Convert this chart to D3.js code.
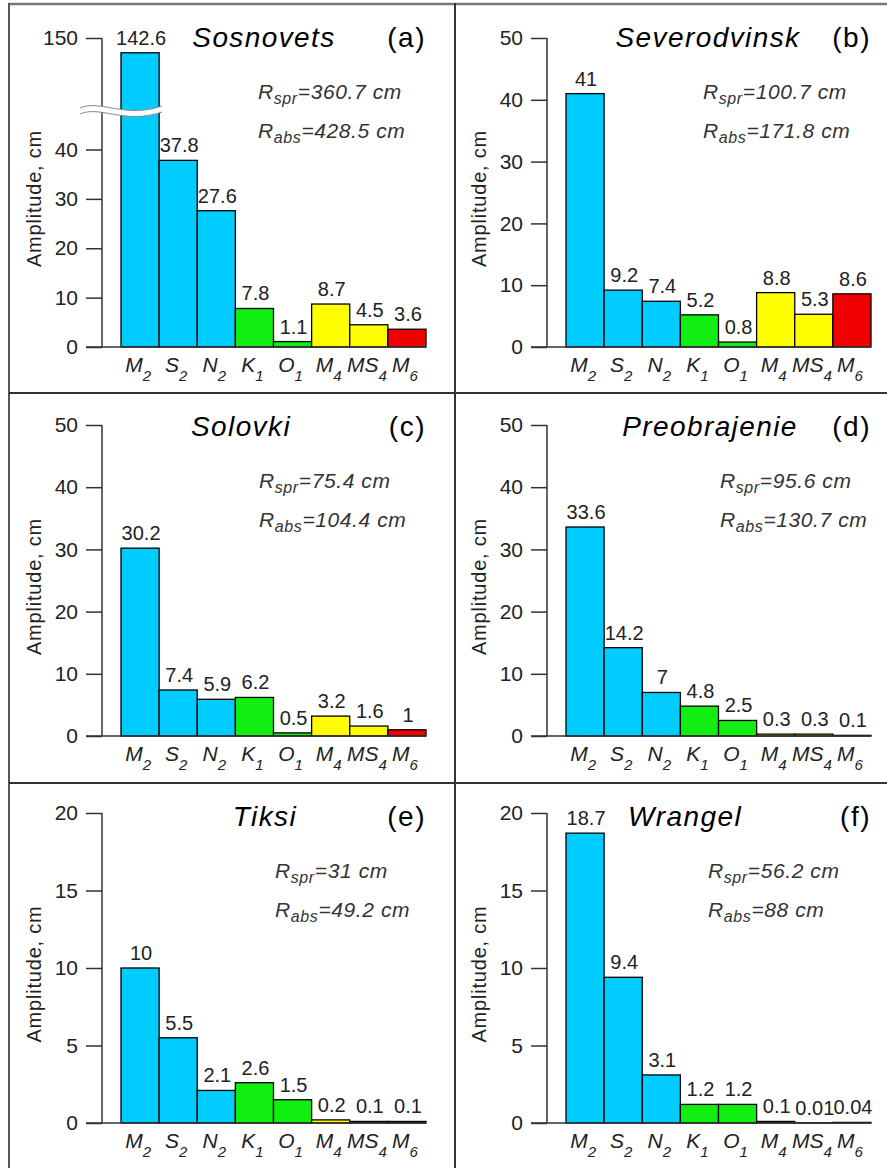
<!DOCTYPE html>
<html>
<head>
<meta charset="utf-8">
<script src="https://cdn.jsdelivr.net/npm/d3@7"></script>
<style>
  body { margin: 0; background: #fff; }
  text { font-family: "Liberation Sans", Arial, sans-serif; }
</style>
</head>
<body>
<script>
// Tidal constituents (letter + subscript) and their species
const constituents = ["M", "S", "N", "K", "O", "M", "MS", "M"];
const subscripts = ["2", "2", "2", "1", "1", "4", "4", "6"];
const species = ["semidiurnal", "semidiurnal", "semidiurnal", "diurnal", "diurnal", "quarter", "quarter", "sixth"];

const stations = ["Sosnovets", "Severodvinsk", "Solovki", "Preobrajenie", "Tiksi", "Wrangel"];
const panelLetters = ["(a)", "(b)", "(c)", "(d)", "(e)", "(f)"];

// Amplitudes, cm
const sosnovets = [142.6, 37.8, 27.6, 7.8, 1.1, 8.7, 4.5, 3.6];
const severodvinsk = [41, 9.2, 7.4, 5.2, 0.8, 8.8, 5.3, 8.6];
const solovki = [30.2, 7.4, 5.9, 6.2, 0.5, 3.2, 1.6, 1];
const preobrajenie = [33.6, 14.2, 7, 4.8, 2.5, 0.3, 0.3, 0.1];
const tiksi = [10, 5.5, 2.1, 2.6, 1.5, 0.2, 0.1, 0.1];
const wrangel = [18.7, 9.4, 3.1, 1.2, 1.2, 0.1, 0.01, 0.04];
const amplitudes = [sosnovets, severodvinsk, solovki, preobrajenie, tiksi, wrangel];

const rSpr = ["360.7", "100.7", "75.4", "95.6", "31", "56.2"];
const rAbs = ["428.5", "171.8", "104.4", "130.7", "49.2", "88"];

// y domains (Sosnovets has a broken axis between 48 and 114)
const yDomains = [[0, 48, 114, 150], [0, 50], [0, 50], [0, 50], [0, 20], [0, 20]];
const yTicks = [
  [0, 10, 20, 30, 40, 150],
  [0, 10, 20, 30, 40, 50],
  [0, 10, 20, 30, 40, 50],
  [0, 10, 20, 30, 40, 50],
  [0, 5, 10, 15, 20],
  [0, 5, 10, 15, 20]
];

const colors = { semidiurnal: "#00ccff", diurnal: "#11ee11", quarter: "#ffff00", sixth: "#f00000" };

// layout
const W = 887, H = 1168;
const colX = [0, 445];
const rowTop = [4, 393, 783];
const zeroY = [347, 736, 1123];
const topY = [38, 425, 813];
const breakY = 110;
const titleX = [264, 708, 241, 710, 265, 685];
const annX = [258, 703, 259, 720, 275, 708];

const svg = d3.select("body").append("svg")
    .attr("width", W)
    .attr("height", H);

svg.append("rect").attr("width", W).attr("height", H).attr("fill", "#fff");

stations.forEach((name, i) => {
  const col = i % 2, row = Math.floor(i / 2);
  const ox = colX[col];
  const g = svg.append("g").attr("transform", `translate(${ox},0)`);
  const y0 = zeroY[row], yTop = topY[row];

  const x = d3.scaleBand()
      .domain(d3.range(constituents.length))
      .range([121, 426])
      .padding(0);

  const dom = yDomains[i];
  const y = d3.scaleLinear()
      .domain(dom)
      .range(dom.length === 4 ? [y0, breakY, breakY, yTop] : [y0, yTop]);

  const data = amplitudes[i];

  // bars
  g.selectAll(".bar")
    .data(data)
    .enter().append("rect")
      .attr("x", (d, j) => x(j))
      .attr("y", d => y(d))
      .attr("width", x.bandwidth())
      .attr("height", d => y0 - y(d))
      .attr("fill", (d, j) => colors[species[j]])
      .attr("stroke", "#000")
      .attr("stroke-width", 1.3);

  // y axis
  const axis = g.append("g")
      .attr("transform", "translate(102,0)")
      .call(d3.axisLeft(y).tickValues(yTicks[i]).tickSize(16).tickPadding(8).tickFormat(d3.format("d")));
  axis.select(".domain").remove();
  axis.selectAll("line").attr("stroke", "#333").attr("stroke-width", 1.5);
  axis.selectAll("text")
      .attr("font-size", 21)
      .attr("fill", "#222")
      .attr("font-family", "Liberation Sans, Arial, sans-serif");

  g.append("line")
      .attr("x1", 102).attr("x2", 102)
      .attr("y1", y0).attr("y2", yTop)
      .attr("stroke", "#333").attr("stroke-width", 1.5);
  g.append("line")
      .attr("x1", 86).attr("x2", 426)
      .attr("y1", y0).attr("y2", y0)
      .attr("stroke", "#333").attr("stroke-width", 1.5);

  // axis break
  if (dom.length === 4) {
    const up = `M80,${breakY - 2} C100,${breakY - 11} 125,${breakY + 9} 162,${breakY - 4}`;
    const band = up + ` L162,${breakY + 2} C125,${breakY + 15} 100,${breakY - 5} 80,${breakY + 4} Z`;
    g.append("path").attr("d", band).attr("fill", "#fff").attr("stroke", "none");
    g.append("path").attr("d", up).attr("fill", "none").attr("stroke", "#888").attr("stroke-width", 1);
    g.append("path")
        .attr("d", `M80,${breakY + 4} C100,${breakY - 5} 125,${breakY + 15} 162,${breakY + 2}`)
        .attr("fill", "none").attr("stroke", "#888").attr("stroke-width", 1);
  }

  // value labels
  g.selectAll(".val")
    .data(data)
    .enter().append("text")
      .attr("x", (d, j) => x(j) + x.bandwidth() / 2 + 1)
      .attr("y", d => y(d) - 8)
      .attr("text-anchor", "middle")
      .attr("font-size", 20)
      .attr("fill", "#222")
      .text(d => String(d));

  // constituent labels
  constituents.forEach((c, j) => {
    const t = g.append("text")
        .attr("x", x(j) + x.bandwidth() / 2 - 2)
        .attr("y", y0 + 25)
        .attr("text-anchor", "middle")
        .attr("font-style", "italic")
        .attr("font-size", 21)
        .attr("fill", "#222");
    t.append("tspan").text(c);
    t.append("tspan").attr("font-size", 15).attr("dy", 9).text(subscripts[j]);
  });

  // y label
  g.append("text")
      .attr("transform", `translate(41,${(y0 + yTop) / 2 + 6}) rotate(-90)`)
      .attr("text-anchor", "middle")
      .attr("font-size", 20)
      .attr("letter-spacing", 0.8)
      .attr("fill", "#222")
      .text("Amplitude, cm");

  // title and panel letter
  const tb = rowTop[row] + 43;
  svg.append("text")
      .attr("x", titleX[i]).attr("y", tb)
      .attr("text-anchor", "middle")
      .attr("font-style", "italic")
      .attr("font-size", 28)
      .attr("letter-spacing", 1.4)
      .attr("fill", "#000")
      .text(name);
  g.append("text")
      .attr("x", 426).attr("y", tb)
      .attr("text-anchor", "end")
      .attr("font-size", 28)
      .attr("letter-spacing", 1.5)
      .attr("fill", "#000")
      .text(panelLetters[i]);

  // ranges
  [["spr", rSpr[i], 95], ["abs", rAbs[i], 134]].forEach(([sub, val, dyy]) => {
    const t = svg.append("text")
        .attr("x", annX[i]).attr("y", rowTop[row] + dyy)
        .attr("font-style", "italic")
        .attr("font-size", 21)
        .attr("letter-spacing", 0.6)
        .attr("fill", "#333");
    t.append("tspan").text("R");
    t.append("tspan").attr("font-size", 16).attr("dy", 5).text(sub);
    t.append("tspan").attr("dy", -5).text(`=${val} cm`);
  });
});

// frame
svg.append("line").attr("x1", 8).attr("x2", W).attr("y1", 4).attr("y2", 4)
    .attr("stroke", "#777").attr("stroke-width", 2.5);
svg.append("line").attr("x1", 9).attr("x2", 9).attr("y1", 3).attr("y2", H)
    .attr("stroke", "#555").attr("stroke-width", 2);
svg.append("line").attr("x1", 455).attr("x2", 455).attr("y1", 3).attr("y2", H)
    .attr("stroke", "#333").attr("stroke-width", 2);
[393, 783].forEach(yy => {
  svg.append("line").attr("x1", 9).attr("x2", W).attr("y1", yy).attr("y2", yy)
      .attr("stroke", "#333").attr("stroke-width", 2);
});
</script>
</body>
</html>
